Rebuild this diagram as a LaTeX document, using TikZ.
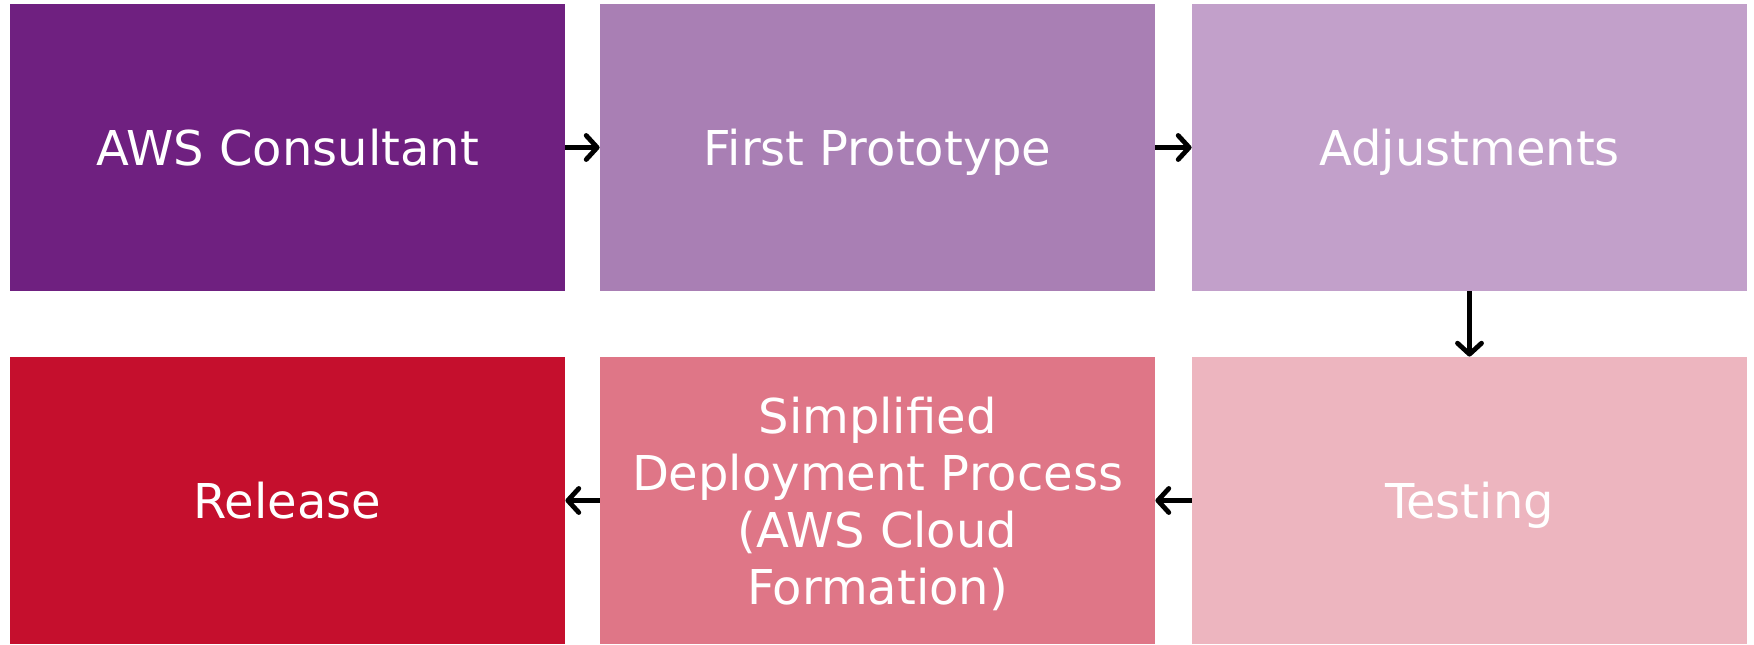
\documentclass[tikz,border=0pt]{standalone}
\usepackage{fontspec}
\setmainfont{DejaVu Sans}
\usetikzlibrary{arrows.meta}
\definecolor{c1}{RGB}{111,32,128}
\definecolor{c2}{RGB}{169,127,180}
\definecolor{c3}{RGB}{194,160,202}
\definecolor{c4}{RGB}{237,181,191}
\definecolor{c5}{RGB}{223,118,135}
\definecolor{c6}{RGB}{197,15,45}
\newcommand\mystrut{\rule[-6pt]{0pt}{30pt}}
\tikzset{
  box/.style={rectangle, draw=none, minimum width=277.5pt, minimum height=143.5pt,
    inner sep=0pt, text=white, align=center,
    font=\fontsize{24}{28.5}\selectfont},
  conn/.style={line width=2.4pt, -{Straight Barb[length=5.5pt,width=12pt,line cap=round,line join=round]}}
}
\begin{document}
\begin{tikzpicture}[x=1pt,y=1pt]
\useasboundingbox (0,0) rectangle (877,322);
\node[box, fill=c1] (a) at (143.75,248.25) {\mystrut AWS Consultant};
\node[box, fill=c2] (b) at (438.75,248.25) {\mystrut First Prototype};
\node[box, fill=c3] (c) at (734.75,248.25) {\mystrut Adjustments};
\node[box, fill=c4] (d) at (734.75,71.75) {\mystrut Testing};
\node[box, fill=c5] (e) at (438.75,71.75) {\mystrut Simplified\\Deployment Process\\(AWS Cloud\\Formation)\mystrut};
\node[box, fill=c6] (f) at (143.75,71.75) {\mystrut Release};
\draw[conn] (a) -- (b);
\draw[conn] (b) -- (c);
\draw[conn] (c) -- (d);
\draw[conn] (d) -- (e);
\draw[conn] (e) -- (f);
\end{tikzpicture}
\end{document}
